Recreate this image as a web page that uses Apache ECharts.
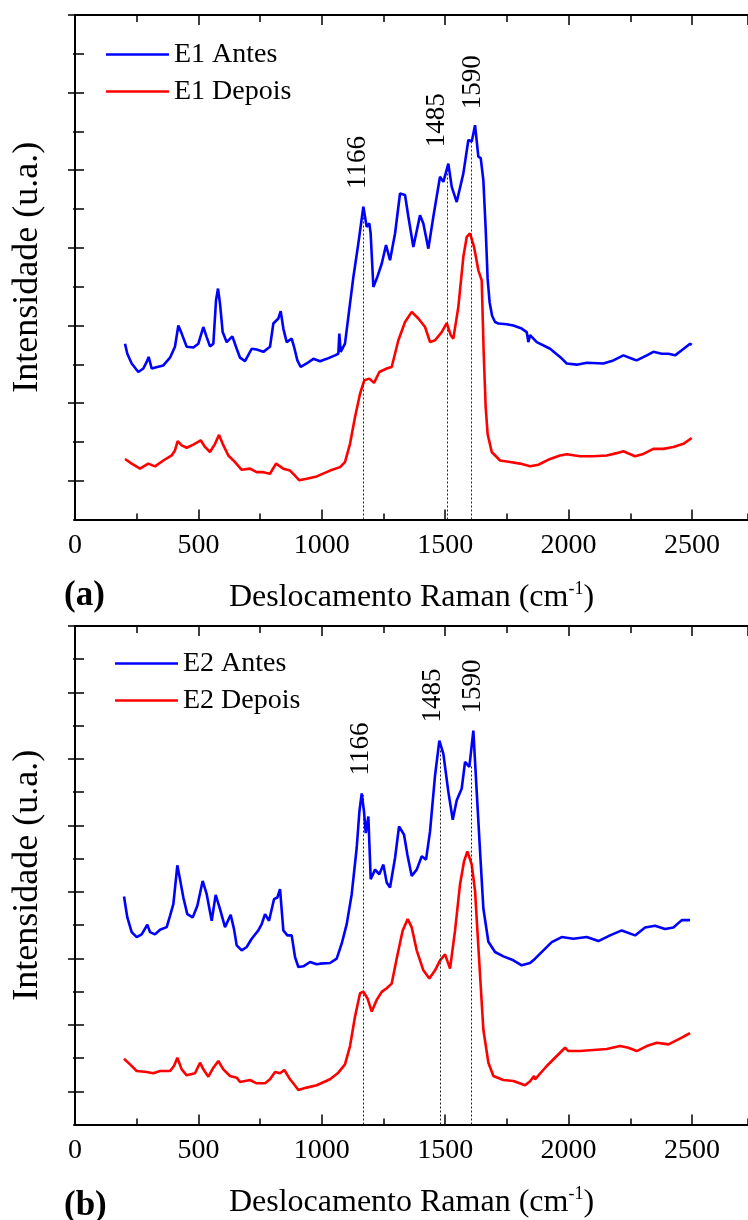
<!DOCTYPE html>
<html>
<head>
<meta charset="utf-8">
<script src="https://cdn.jsdelivr.net/npm/echarts@6/dist/echarts.min.js"></script>
<style>
html,body{margin:0;padding:0;background:#fff;}
#chart{width:748px;height:1220px;}
</style>
</head>
<body>
<div id="chart"></div>
<script>
// ---------- DATA (x: Raman shift cm-1, y: intensity in tick units) ----------
const e1Antes = [[202.6,4.53],[212,4.27],[229.7,4.02],[256.6,3.80],[276.9,3.89],[290.4,4.06],[298.5,4.19],[310.7,3.89],[333.6,3.93],[358,3.97],[385,4.17],[405,4.45],[418.8,5.00],[432.3,4.79],[452.5,4.45],[479.6,4.43],[499.8,4.53],[520,4.96],[533.6,4.70],[547,4.46],[560.6,4.53],[571.4,5.65],[579.5,5.95],[587.6,5.56],[598.4,4.83],[614.6,4.57],[637.6,4.72],[655.2,4.40],[668.7,4.17],[689,4.08],[716,4.40],[736.2,4.38],[763.2,4.32],[790.2,4.45],[803.7,5.05],[824,5.18],[833.5,5.37],[844.2,4.92],[857.7,4.57],[878,4.66],[887.5,4.45],[901,4.10],[914.5,3.93],[938.8,4.02],[965.8,4.14],[992.9,4.08],[1020,4.14],[1053.7,4.23],[1067,4.27],[1071,4.79],[1076.7,4.32],[1094,4.53],[1107.6,5.22],[1128,6.25],[1148,7.11],[1168.4,8.06],[1182,7.54],[1192.7,7.63],[1198,7.37],[1209,5.99],[1225,6.25],[1242.8,6.59],[1260.3,7.07],[1276.5,6.68],[1296.8,7.37],[1317,8.40],[1337.3,8.36],[1350.8,7.80],[1371,7.02],[1398,7.84],[1411.5,7.63],[1431.8,6.98],[1452,7.80],[1479,8.83],[1492.6,8.70],[1512.8,9.17],[1526.5,8.57],[1546.8,8.18],[1573.6,8.92],[1593.9,9.78],[1607.6,9.74],[1621,10.16],[1634.4,9.35],[1644,9.31],[1654.7,8.74],[1664,7.5],[1672,6.2],[1680,5.6],[1690,5.25],[1702,5.09],[1715.5,5.05],[1749.3,5.03],[1776.3,5.00],[1810,4.92],[1830.4,4.83],[1836,4.83],[1837,4.57],[1844,4.75],[1871,4.57],[1925,4.40],[1965.5,4.19],[1992.5,4.02],[2033,3.99],[2073.6,4.04],[2141,4.02],[2181.6,4.10],[2222,4.23],[2262.6,4.13],[2276,4.10],[2316.8,4.23],[2343.6,4.32],[2377.5,4.27],[2404.5,4.27],[2431.5,4.23],[2458.5,4.36],[2492.3,4.53],[2499,4.50]];

const e1Depois = [[202.6,1.56],[229.7,1.44],[263.4,1.31],[297,1.44],[324.2,1.37],[358,1.52],[391.7,1.65],[405,1.78],[416,2.02],[432.3,1.91],[452.5,1.85],[479.6,1.93],[509.3,2.04],[526.8,1.87],[547,1.74],[567.4,1.95],[583.6,2.18],[598.4,1.95],[621.3,1.65],[648.4,1.48],[675.5,1.28],[709.2,1.31],[736.2,1.22],[763,1.22],[790,1.18],[814.6,1.44],[844,1.31],[871.3,1.26],[891.5,1.13],[909,1.01],[938.8,1.05],[979.5,1.11],[1033.4,1.26],[1074,1.35],[1094,1.48],[1114.4,1.95],[1134.7,2.64],[1155,3.24],[1172.5,3.59],[1192.7,3.63],[1211.7,3.52],[1233.2,3.80],[1263,3.89],[1283.3,3.93],[1310.2,4.62],[1337.3,5.09],[1364.4,5.35],[1391.3,5.18],[1418.4,4.96],[1438.6,4.57],[1459,4.62],[1486,4.83],[1506.2,5.06],[1522.5,4.75],[1533,4.66],[1553.3,5.48],[1573.6,6.77],[1587.3,7.28],[1600.7,7.37],[1617,7.02],[1634.4,6.42],[1648,6.16],[1656,4.3],[1664,2.9],[1672,2.2],[1688.6,1.74],[1722.3,1.52],[1762.9,1.48],[1803.4,1.44],[1844,1.37],[1877.6,1.41],[1925,1.56],[1965.5,1.65],[1992.5,1.68],[2046.5,1.63],[2100.4,1.63],[2154.6,1.65],[2195.2,1.71],[2222,1.76],[2269.4,1.63],[2303,1.69],[2343.6,1.82],[2384.1,1.82],[2424.7,1.87],[2465.2,1.95],[2499,2.10]];

const e2Antes = [[198.6,6.86],[212,6.23],[229.7,5.79],[250,5.64],[270.2,5.72],[293,6.01],[304,5.79],[324.2,5.72],[344.5,5.86],[371.5,5.94],[385,6.28],[398.5,6.63],[414.7,7.80],[425.5,7.38],[439,6.83],[455,6.33],[476.9,6.23],[495.7,6.58],[517.3,7.33],[533.6,6.93],[553.9,6.13],[570,6.91],[587.6,6.48],[607.9,5.94],[630.8,6.31],[644.3,5.88],[655.2,5.39],[675.5,5.24],[695.7,5.34],[716,5.59],[743,5.84],[756.5,6.03],[770,6.33],[786.2,6.13],[806.4,6.78],[820,6.83],[830.8,7.08],[844.2,5.84],[860.4,5.69],[878,5.69],[891.5,5.04],[905,4.74],[925.3,4.76],[952.3,4.89],[979.5,4.82],[992.9,4.84],[1033.4,4.86],[1060.4,4.99],[1080.6,5.44],[1101,6.03],[1121.2,6.93],[1141.4,8.32],[1152.3,9.41],[1161.7,9.96],[1171.2,9.41],[1178,8.77],[1188.7,9.27],[1198.3,7.38],[1215.8,7.67],[1233.2,7.53],[1249.5,7.82],[1263,7.28],[1276.5,7.13],[1296.8,8.02],[1313,8.97],[1333.3,8.72],[1346.8,8.12],[1364.4,7.48],[1384.6,7.67],[1405,8.07],[1422.4,7.97],[1438.6,8.82],[1459,10.51],[1476.4,11.55],[1492.6,11.15],[1512.8,10.01],[1530.6,9.17],[1546.8,9.76],[1567,10.11],[1580.5,10.91],[1598,10.76],[1614.1,11.85],[1627.8,10.01],[1641.3,8.22],[1654.7,6.5],[1675,5.5],[1702,5.19],[1735.8,5.06],[1776.3,4.94],[1810,4.79],[1844,4.86],[1864.2,4.99],[1898,5.24],[1931.8,5.49],[1972.2,5.64],[2019.5,5.59],[2073.6,5.64],[2120.8,5.52],[2168,5.69],[2215.5,5.84],[2269.4,5.69],[2310,5.93],[2350.5,5.98],[2391,5.88],[2424.7,5.93],[2458.5,6.15],[2492.3,6.15]];

const e2Depois = [[198.6,1.98],[222.9,1.81],[250,1.61],[290.4,1.58],[317.4,1.54],[344.5,1.61],[385,1.61],[401.2,1.76],[414.7,2.01],[432.3,1.66],[452.5,1.48],[486.3,1.54],[506.6,1.86],[520,1.66],[540.3,1.44],[560.6,1.71],[580.8,1.91],[601.1,1.66],[628.1,1.46],[655.2,1.41],[668.7,1.28],[709.2,1.34],[736.2,1.24],[770,1.24],[790.2,1.36],[810.5,1.58],[830.8,1.54],[848.3,1.64],[871.3,1.36],[887.5,1.21],[905,1.04],[938.8,1.11],[979.5,1.18],[1033.4,1.36],[1067,1.56],[1094,1.81],[1114.4,2.36],[1134.7,3.25],[1155,3.95],[1168.4,4.00],[1184.7,3.80],[1202.4,3.40],[1222.6,3.75],[1242.8,3.99],[1263,4.10],[1283.3,4.24],[1306.3,5.09],[1327.8,5.84],[1348.1,6.18],[1364.4,5.93],[1384.6,5.24],[1411.5,4.64],[1435.8,4.39],[1459,4.64],[1479.2,4.94],[1499.4,5.12],[1519.7,4.69],[1540,5.84],[1560.2,7.23],[1576.4,7.92],[1590,8.22],[1607.6,7.82],[1621,7.03],[1638.5,4.84],[1654.7,2.85],[1675,1.86],[1695.3,1.46],[1735.8,1.34],[1776.3,1.31],[1823.6,1.18],[1844,1.30],[1860,1.46],[1864,1.36],[1911.4,1.76],[1952,2.06],[1985.7,2.31],[1999,2.21],[2046.5,2.21],[2100.4,2.24],[2154.6,2.27],[2208.6,2.36],[2242.4,2.31],[2276,2.21],[2316.8,2.36],[2357.3,2.46],[2404.5,2.41],[2445,2.56],[2472,2.67],[2492.3,2.75]];

// dotted guide lines: [x, top y]
const guidesA = [[1166, 8.06],[1510, 9.1],[1607, 9.78]];
const guidesB = [[1166, 9.91],[1482, 11.3],[1607, 10.8]];
// peak labels: [x, y, text]
const peakLabelsA = [[1148, 9.20, '1166'],[1467, 10.29, '1485'],[1611, 11.27, '1590']];
const peakLabelsB = [[1157, 11.30, '1166'],[1451, 12.91, '1485'],[1613, 13.18, '1590']];

const xMin = 0, xMax = 2727, xMajor = 500, xMinor = 250;
const yMaxA = 13, yMaxB = 15;
const seriesNamesA = ['E1 Antes', 'E1 Depois'];
const seriesNamesB = ['E2 Antes', 'E2 Depois'];
const xTitle = 'Deslocamento Raman (cm';
const yTitle = 'Intensidade (u.a.)';
const panelTags = ['(a)', '(b)'];

// ---------- CHART ----------
const FONT = '"Liberation Serif", "Times New Roman", serif';
const BLACK = '#000';
const chart = echarts.init(document.getElementById('chart'), null, {renderer: 'canvas'});

const grids = [
  {left: 75, top: 15, width: 673, height: 504.5},
  {left: 75, top: 626, width: 673, height: 503.5}
];

function xAxes(g) {
  const base = {gridIndex: g, type: 'value', min: xMin, max: xMax, splitLine: {show: false}};
  return [
    Object.assign({}, base, {
      position: 'bottom', interval: xMajor,
      axisLine: {show: true, lineStyle: {color: BLACK, width: 2}},
      axisTick: {show: true, inside: true, length: 10, lineStyle: {color: BLACK, width: 1.5}},
      axisLabel: {show: true, showMaxLabel: false, color: BLACK, fontFamily: FONT, fontSize: 28, margin: 12,
        formatter: v => String(v)},
      name: '{t|' + xTitle + '}{s|-1}{t|)}', nameLocation: 'middle', nameGap: 61,
      nameTextStyle: {rich: {
        t: {fontFamily: FONT, fontSize: 32, color: BLACK, lineHeight: 35},
        s: {fontFamily: FONT, fontSize: 18, color: BLACK, verticalAlign: 'top', lineHeight: 18}
      }}
    }),
    Object.assign({}, base, {
      position: 'bottom', interval: xMinor,
      axisLine: {show: false}, axisLabel: {show: false},
      axisTick: {show: true, inside: true, length: 6, lineStyle: {color: BLACK, width: 1.5}}
    }),
    Object.assign({}, base, {
      position: 'top', interval: xMajor,
      axisLine: {show: true, lineStyle: {color: BLACK, width: 2}}, axisLabel: {show: false},
      axisTick: {show: true, inside: true, length: 10, lineStyle: {color: BLACK, width: 1.5}}
    }),
    Object.assign({}, base, {
      position: 'top', interval: xMinor,
      axisLine: {show: false}, axisLabel: {show: false},
      axisTick: {show: true, inside: true, length: 7, lineStyle: {color: BLACK, width: 1.5}}
    })
  ];
}

function yAxes(g, yMax) {
  const cats = [];
  for (let i = 0; i <= yMax; i++) cats.push(String(i));
  return [
    {gridIndex: g, type: 'value', position: 'left', min: 0, max: yMax, interval: 1,
      splitLine: {show: false},
      axisLine: {show: true, lineStyle: {color: BLACK, width: 2}},
      axisTick: {show: true, inside: true, length: 9, lineStyle: {color: BLACK, width: 1.5}},
      axisLabel: {show: false},
      name: yTitle, nameLocation: 'middle', nameRotate: 90, nameGap: 29,
      nameTextStyle: {fontFamily: FONT, fontSize: 36, color: BLACK}
    },
    {gridIndex: g, type: 'value', position: 'right', min: 0, max: yMax, interval: 1,
      splitLine: {show: false},
      axisLine: {show: true, lineStyle: {color: BLACK, width: 2}},
      axisTick: {show: true, inside: true, length: 2, lineStyle: {color: BLACK, width: 1.5}},
      axisLabel: {show: false}
    },
    {gridIndex: g, type: 'category', position: 'right', data: cats, boundaryGap: false,
      axisLine: {show: false}, axisLabel: {show: false}, splitLine: {show: false},
      axisTick: {show: true, inside: true, length: 7, interval: function (i) { return i % 2 === 1; },
        lineStyle: {color: BLACK, width: 1.5}}
    }
  ];
}

function lineSeries(name, data, color, xi, yi, guides) {
  const s = {
    name: name, type: 'line', data: data, xAxisIndex: xi, yAxisIndex: yi,
    symbol: 'none', showSymbol: false, smooth: false,
    lineStyle: {color: color, width: 2.6}, itemStyle: {color: color},
    emphasis: {disabled: true}, z: 3
  };
  if (guides) {
    s.markLine = {
      silent: true, symbol: ['none', 'none'], label: {show: false},
      lineStyle: {color: '#222', width: 1, type: [2, 2]},
      data: guides.map(g => [{coord: [g[0], 0]}, {coord: [g[0], g[1]]}])
    };
  }
  return s;
}

function labelSeries(data, xi, yi) {
  return {
    type: 'scatter', data: data, xAxisIndex: xi, yAxisIndex: yi,
    symbolSize: 1, itemStyle: {color: 'rgba(255,255,255,0)'}, silent: true, z: 5,
    label: {show: true, position: 'inside', rotate: 90, color: '#000', fontFamily: FONT, fontSize: 27,
      textBorderWidth: 0, textBorderColor: 'transparent', opacity: 1,
      formatter: p => p.value[2]},
    labelLayout: {hideOverlap: false}
  };
}

const legendBase = {
  orient: 'vertical', itemWidth: 63, itemHeight: 2.6, itemGap: 8, icon: 'rect',
  textStyle: {fontFamily: FONT, fontSize: 28, color: BLACK, lineHeight: 29},
  selectedMode: false
};

const option = {
  animation: false,
  backgroundColor: '#fff',
  grid: grids,
  xAxis: xAxes(0).concat(xAxes(1)),
  yAxis: yAxes(0, yMaxA).concat(yAxes(1, yMaxB)),
  legend: [
    Object.assign({}, legendBase, {data: seriesNamesA, left: 101, top: 35}),
    Object.assign({}, legendBase, {data: seriesNamesB, left: 110, top: 644})
  ],
  series: [
    lineSeries(seriesNamesA[0], e1Antes, '#0000ff', 0, 0, guidesA),
    lineSeries(seriesNamesA[1], e1Depois, '#ff0000', 0, 0, null),
    labelSeries(peakLabelsA, 0, 0),
    lineSeries(seriesNamesB[0], e2Antes, '#0000ff', 4, 3, guidesB),
    lineSeries(seriesNamesB[1], e2Depois, '#ff0000', 4, 3, null),
    labelSeries(peakLabelsB, 4, 3)
  ],
  graphic: [
    {type: 'text', left: 64, top: 578, style: {text: panelTags[0], font: 'bold 35px ' + FONT, fill: BLACK}},
    {type: 'text', left: 64, top: 1188, style: {text: panelTags[1], font: 'bold 35px ' + FONT, fill: BLACK}}
  ]
};
chart.setOption(option);
</script>
</body>
</html>
